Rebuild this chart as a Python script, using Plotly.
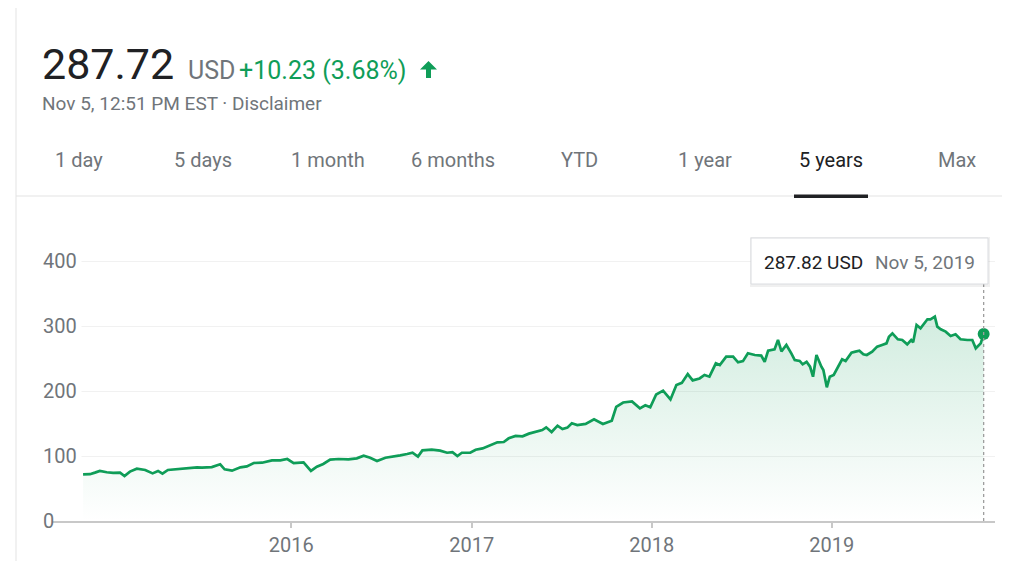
import plotly.graph_objects as go

# ---------------- data ----------------
dates = [
    "2014-11-05", "2014-11-19", "2014-11-29", "2014-12-09", "2014-12-23",
    "2015-01-05", "2015-01-19", "2015-01-28", "2015-02-08", "2015-02-22",
    "2015-03-11", "2015-03-26", "2015-04-06", "2015-04-15", "2015-04-26",
    "2015-05-11", "2015-05-31", "2015-06-24", "2015-07-04", "2015-07-24",
    "2015-08-10", "2015-08-19", "2015-09-03", "2015-09-20", "2015-10-03",
    "2015-10-17", "2015-11-03", "2015-11-23", "2015-12-10", "2015-12-24",
    "2016-01-06", "2016-01-26", "2016-02-10", "2016-02-22", "2016-03-06",
    "2016-03-20", "2016-04-06", "2016-04-26", "2016-05-13", "2016-05-27",
    "2016-06-09", "2016-06-23", "2016-07-10", "2016-07-26", "2016-08-09",
    "2016-08-23", "2016-09-03", "2016-09-14", "2016-09-23", "2016-10-12",
    "2016-10-29", "2016-11-12", "2016-11-23", "2016-12-03", "2016-12-12",
    "2016-12-29",
    "2017-01-09", "2017-01-23", "2017-02-08", "2017-02-22", "2017-03-07",
    "2017-03-17", "2017-03-31", "2017-04-14", "2017-04-27", "2017-05-11",
    "2017-05-24", "2017-06-01", "2017-06-12", "2017-06-24", "2017-07-04",
    "2017-07-14", "2017-07-23", "2017-08-03", "2017-08-20", "2017-09-06",
    "2017-09-24", "2017-10-12", "2017-10-21", "2017-11-04", "2017-11-22",
    "2017-12-08", "2017-12-19", "2017-12-29",
    "2018-01-10", "2018-01-24", "2018-02-08", "2018-02-20", "2018-03-03",
    "2018-03-15", "2018-03-25", "2018-04-08", "2018-04-18", "2018-04-28",
    "2018-05-11", "2018-05-19", "2018-06-01", "2018-06-15", "2018-06-25",
    "2018-07-05", "2018-07-15", "2018-07-29", "2018-08-11", "2018-08-18",
    "2018-08-25", "2018-09-07", "2018-09-14", "2018-09-21", "2018-10-01",
    "2018-10-11", "2018-10-18", "2018-10-28", "2018-11-03", "2018-11-11",
    "2018-11-18", "2018-11-24", "2018-12-01", "2018-12-11", "2018-12-15",
    "2018-12-22", "2018-12-28",
    "2019-01-05", "2019-01-13", "2019-01-22", "2019-01-29", "2019-02-10",
    "2019-02-18", "2019-02-26", "2019-03-06", "2019-03-13", "2019-03-24",
    "2019-04-03", "2019-04-13", "2019-04-22", "2019-04-27", "2019-05-04",
    "2019-05-15", "2019-05-24", "2019-06-03", "2019-06-11", "2019-06-15",
    "2019-06-22", "2019-06-30", "2019-07-14", "2019-07-20", "2019-07-29",
    "2019-08-03", "2019-08-10", "2019-08-20", "2019-08-30", "2019-09-09",
    "2019-09-19", "2019-10-03", "2019-10-13", "2019-10-20", "2019-10-30",
    "2019-11-05",
]
prices = [
    71.8, 72.0, 74.4, 77.0, 75.0,
    74.0, 74.4, 69.2, 76.0, 80.5,
    78.5, 73.3, 77.0, 72.8, 78.5,
    79.5, 81.0, 82.6, 82.0, 83.0,
    87.2, 79.5, 77.4, 82.6, 84.0,
    89.2, 89.7, 93.3, 93.3, 95.4,
    89.2, 90.3, 77.0, 83.6, 87.7,
    94.4, 95.4, 94.9, 96.4, 100.5,
    97.4, 92.3, 97.4, 99.0, 101.0,
    103.0, 105.0, 99.0, 108.7, 109.7,
    108.2, 105.0, 106.0, 100.0, 105.0,
    105.0,
    109.7, 111.7, 116.9, 121.0, 121.5,
    127.2, 130.8, 130.3, 134.4, 136.9,
    140.0, 144.1, 136.9, 146.7, 141.5,
    143.6, 150.3, 147.7, 149.5, 156.4,
    149.2, 154.3, 175.5, 182.3, 183.8,
    173.3, 178.0, 175.0,
    194.6, 200.5, 187.1, 209.3, 212.5,
    226.0, 216.4, 219.3, 224.6, 222.0,
    242.6, 240.0, 252.8, 252.8, 244.1,
    246.0, 258.0, 255.4, 254.4, 245.0,
    262.0, 264.0, 278.5, 261.0, 270.8,
    258.0, 247.7, 246.2, 241.0, 245.0,
    237.4, 222.0, 255.4, 237.4, 232.3,
    205.6, 222.0,
    224.6, 234.9, 248.7, 246.2, 259.0,
    260.5, 262.0, 256.4, 255.4, 260.5,
    268.2, 270.8, 273.3, 283.6, 288.7,
    279.5, 278.5, 271.8, 278.5, 274.9,
    301.5, 296.4, 310.3, 310.3, 314.3,
    299.0, 294.9, 291.3, 284.6, 287.2,
    279.5, 278.5, 278.5, 265.7, 273.3,
    287.82,
]

y_ticks = [0, 100, 200, 300, 400]
x_tick_dates = ["2016-01-01", "2017-01-01", "2018-01-01", "2019-01-01"]
x_tick_labels = ["2016", "2017", "2018", "2019"]
tab_labels = ["1 day", "5 days", "1 month", "6 months", "YTD", "1 year", "5 years", "Max"]
tab_centers = [79, 203, 328, 453, 579, 705, 831, 957]
selected_tab = "5 years"

price_text = "287.72"
currency = "USD"
change_text = "+10.23 (3.68%)"
sub_text = "Nov 5, 12:51 PM EST · Disclaimer"
tooltip_value = "287.82 USD"
tooltip_date = "Nov 5, 2019"

# ---------------- layout geometry ----------------
OFF = 8                     # page body margin of the html page
W, H = 1010 - OFF, 561 - OFF
PLOT_L, PLOT_R, PLOT_T, PLOT_B = 52, 995, 248, 521   # in screenshot pixels
ML = PLOT_L - OFF
MR = W - (PLOT_R - OFF)
MT = PLOT_T - OFF
MB = H - (PLOT_B - OFF)
PW = W - ML - MR
PH = H - MT - MB

GREEN = "#0f9d58"
GREY = "#70757a"
DARK = "#202124"
FONT = "Roboto, Arial, sans-serif"


def px(x):
    return (x - PLOT_L) / PW


def py(y):
    return (PLOT_B - y) / PH


fig = go.Figure()

fig.add_trace(go.Scatter(
    x=dates, y=prices, mode="lines",
    line=dict(color=GREEN, width=2.7),
    fill="tozeroy",
    fillgradient=dict(
        type="vertical",
        colorscale=[[0, "rgba(15,157,88,0)"], [1, "rgba(15,157,88,0.19)"]],
        start=0, stop=320,
    ),
    hoverinfo="skip", showlegend=False,
))
fig.add_trace(go.Scatter(
    x=[dates[-1]], y=[prices[-1]], mode="markers",
    marker=dict(color=GREEN, size=12),
    hoverinfo="skip", showlegend=False,
))

annotations = []
shapes = []

# header
annotations.append(dict(xref="paper", yref="paper", x=px(40), y=py(64), text=price_text,
                        showarrow=False, xanchor="left", yanchor="middle",
                        font=dict(family=FONT, size=43, color=DARK)))
annotations.append(dict(xref="paper", yref="paper", x=px(186), y=py(70), text=currency,
                        showarrow=False, xanchor="left", yanchor="middle",
                        font=dict(family=FONT, size=25, color=GREY)))
annotations.append(dict(xref="paper", yref="paper", x=px(237), y=py(70), text=change_text,
                        showarrow=False, xanchor="left", yanchor="middle",
                        font=dict(family=FONT, size=25, color=GREEN)))
annotations.append(dict(xref="paper", yref="paper", x=px(40), y=py(103), text=sub_text,
                        showarrow=False, xanchor="left", yanchor="middle",
                        font=dict(family=FONT, size=19, color=GREY)))

# up arrow
ax0, ay0 = 428.5, 61
arrow_path = (f"M {px(ax0)} {py(ay0)} L {px(ax0 + 8.5)} {py(ay0 + 8.5)} L {px(ax0 + 2.5)} {py(ay0 + 8.5)} "
              f"L {px(ax0 + 2.5)} {py(ay0 + 17)} L {px(ax0 - 2.5)} {py(ay0 + 17)} L {px(ax0 - 2.5)} {py(ay0 + 8.5)} "
              f"L {px(ax0 - 8.5)} {py(ay0 + 8.5)} Z")
shapes.append(dict(type="path", xref="paper", yref="paper", path=arrow_path,
                   fillcolor=GREEN, line=dict(width=0)))

# tabs
for lab, cx in zip(tab_labels, tab_centers):
    annotations.append(dict(xref="paper", yref="paper", x=px(cx), y=py(160), text=lab,
                            showarrow=False, xanchor="center", yanchor="middle",
                            font=dict(family=FONT, size=20,
                                      color=DARK if lab == selected_tab else GREY)))
shapes.append(dict(type="line", xref="paper", yref="paper",
                   x0=px(16), x1=px(1010), y0=py(196), y1=py(196),
                   line=dict(color="#e3e3e3", width=1)))
shapes.append(dict(type="rect", xref="paper", yref="paper",
                   x0=px(794), x1=px(868), y0=py(194.5), y1=py(198),
                   fillcolor="#202124", line=dict(width=0)))
shapes.append(dict(type="line", xref="paper", yref="paper",
                   x0=px(16), x1=px(16), y0=py(0), y1=py(561),
                   line=dict(color="#e3e3e3", width=1)))

# y tick labels (left aligned)
for v in y_ticks:
    annotations.append(dict(xref="paper", yref="y", x=px(42), y=v, text=str(v),
                            showarrow=False, xanchor="left", yanchor="middle",
                            bgcolor="white" if v > 0 else "rgba(0,0,0,0)",
                            width=38 if v > 0 else None, align="left",
                            borderpad=0,
                            font=dict(family=FONT, size=20, color=GREY)))

# hover line + tooltip
shapes.append(dict(type="line", xref="x", yref="paper",
                   x0=dates[-1], x1=dates[-1], y0=py(521), y1=py(284),
                   line=dict(color="#9e9e9e", width=1.3, dash="dot")))
shapes.append(dict(type="rect", xref="paper", yref="paper",
                   x0=px(750), x1=px(990), y0=py(237), y1=py(287),
                   fillcolor="rgba(0,0,0,0.06)", line=dict(width=0)))
shapes.append(dict(type="rect", xref="paper", yref="paper",
                   x0=px(751), x1=px(988), y0=py(238), y1=py(284),
                   fillcolor="white", line=dict(color="#dadce0", width=1)))
annotations.append(dict(xref="paper", yref="paper", x=px(762), y=py(262), text=tooltip_value,
                        showarrow=False, xanchor="left", yanchor="middle",
                        font=dict(family=FONT, size=19, color=DARK)))
annotations.append(dict(xref="paper", yref="paper", x=px(873), y=py(262), text=tooltip_date,
                        showarrow=False, xanchor="left", yanchor="middle",
                        font=dict(family=FONT, size=19, color=GREY)))

fig.update_layout(
    width=W, height=H, autosize=False,
    margin=dict(l=ML, r=MR, t=MT, b=MB, autoexpand=False),
    paper_bgcolor="white", plot_bgcolor="white",
    font=dict(family=FONT, color=GREY),
    annotations=annotations, shapes=shapes,
    showlegend=False,
    xaxis=dict(
        type="date",
        range=["2014-09-03", "2019-11-28"],
        tickvals=x_tick_dates, ticktext=x_tick_labels,
        showgrid=False, zeroline=False,
        showline=True, linecolor="#c8c8c8", linewidth=2,
        ticks="outside", ticklen=5, tickcolor="#c8c8c8", tickwidth=1.5,
        tickfont=dict(family=FONT, size=20, color=GREY),
        automargin=False,
        fixedrange=True,
    ),
    yaxis=dict(
        range=[0, 420],
        tickvals=y_ticks[1:],
        showticklabels=False,
        showgrid=True, gridcolor="#f1f1f1", gridwidth=1,
        zeroline=False, showline=False, ticks="",
        automargin=False,
        fixedrange=True,
    ),
)

fig.write_html("out.html", config={"displayModeBar": False})
